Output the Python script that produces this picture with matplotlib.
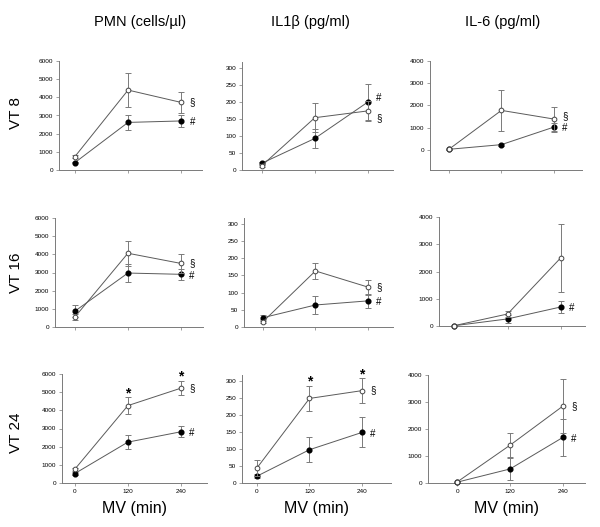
import matplotlib
matplotlib.use("Agg")
import matplotlib.pyplot as plt

plt.rcParams['font.family'] = ['Liberation Sans', 'DejaVu Sans']

# time points (min of mechanical ventilation)
mv_time = [0, 120, 240]
columns = ["PMN (cells/\u00b5l)", "IL1\u03b2 (pg/ml)", "IL-6 (pg/ml)"]
rows = ["VT 8", "VT 16", "VT 24"]

# open circles / filled circles, mean and SEM
pmn_vt8_open = [740, 4400, 3720]
pmn_vt8_open_err = [60, 920, 600]
pmn_vt8_fill = [410, 2620, 2700]
pmn_vt8_fill_err = [40, 400, 310]

il1_vt8_open = [13, 154, 174]
il1_vt8_open_err = [4, 43, 29]
il1_vt8_fill = [20, 93, 200]
il1_vt8_fill_err = [4, 29, 53]

il6_vt8_open = [30, 1780, 1390]
il6_vt8_open_err = [20, 930, 545]
il6_vt8_fill = [30, 240, 1030]
il6_vt8_fill_err = [10, 40, 200]

pmn_vt16_open = [550, 4060, 3500]
pmn_vt16_open_err = [150, 700, 500]
pmn_vt16_fill = [870, 2970, 2900]
pmn_vt16_fill_err = [330, 490, 320]

il1_vt16_open = [15, 163, 116]
il1_vt16_open_err = [4, 23, 22]
il1_vt16_fill = [27, 64, 76]
il1_vt16_fill_err = [9, 27, 20]

il6_vt16_open = [12, 440, 2510]
il6_vt16_open_err = [10, 120, 1250]
il6_vt16_fill = [10, 260, 700]
il6_vt16_fill_err = [8, 135, 210]

pmn_vt24_open = [760, 4260, 5220]
pmn_vt24_open_err = [80, 460, 400]
pmn_vt24_fill = [520, 2250, 2820]
pmn_vt24_fill_err = [60, 370, 300]

il1_vt24_open = [44, 249, 272]
il1_vt24_open_err = [24, 37, 36]
il1_vt24_fill = [20, 98, 149]
il1_vt24_fill_err = [6, 36, 44]

il6_vt24_open = [37, 1400, 2850]
il6_vt24_open_err = [15, 440, 985]
il6_vt24_fill = [30, 520, 1690]
il6_vt24_fill_err = [10, 410, 690]

panels = [
    [(pmn_vt8_open, pmn_vt8_open_err, pmn_vt8_fill, pmn_vt8_fill_err),
     (il1_vt8_open, il1_vt8_open_err, il1_vt8_fill, il1_vt8_fill_err),
     (il6_vt8_open, il6_vt8_open_err, il6_vt8_fill, il6_vt8_fill_err)],
    [(pmn_vt16_open, pmn_vt16_open_err, pmn_vt16_fill, pmn_vt16_fill_err),
     (il1_vt16_open, il1_vt16_open_err, il1_vt16_fill, il1_vt16_fill_err),
     (il6_vt16_open, il6_vt16_open_err, il6_vt16_fill, il6_vt16_fill_err)],
    [(pmn_vt24_open, pmn_vt24_open_err, pmn_vt24_fill, pmn_vt24_fill_err),
     (il1_vt24_open, il1_vt24_open_err, il1_vt24_fill, il1_vt24_fill_err),
     (il6_vt24_open, il6_vt24_open_err, il6_vt24_fill, il6_vt24_fill_err)],
]

# significance marks: "§" next to open series, "#" next to filled, "*" at time points
open_marks = {(0, 0), (0, 1), (0, 2), (1, 0), (1, 1), (2, 0), (2, 1), (2, 2)}
stars = {(2, 0): [120, 240], (2, 1): [120, 240]}
# vertical nudge (points) of the "§" / "#" labels where they would collide
sect_dy = {(0, 1): -5, (0, 2): 2}
hash_dy = {(0, 1): 3}

y_ticks = [list(range(0, 6001, 1000)), list(range(0, 301, 50)), list(range(0, 4001, 1000))]

# layout in pixels: left, right, top, bottom, xlim, ylim
W, H = 600, 527
layout = [
    [(59, 202, 61, 170, (-36, 287), (0, 6000)),
     (242, 393, 62, 170, (-45, 297), (0, 318)),
     (430, 582, 61, 170, (-43, 304), (-900, 4000))],
    [(55, 203, 218, 327, (-45, 290), (0, 6000)),
     (244, 393, 218, 327, (-43, 297), (0, 317)),
     (439, 585, 217, 326, (-34, 294), (0, 4000))],
    [(62, 207, 374, 483, (-29, 299), (0, 6000)),
     (242, 391, 375, 483, (-34, 306), (0, 318)),
     (428, 585, 375, 483, (-66, 290), (0, 4000))],
]

gray = "#7a7a7a"
line_c = "#5a5a5a"

fig = plt.figure(figsize=(W / 100, H / 100), dpi=100)

for r in range(3):
    for c in range(3):
        l, rt, t, b, xl, yl = layout[r][c]
        ax = fig.add_axes([l / W, 1 - b / H, (rt - l) / W, (b - t) / H])
        o, oe, f, fe = panels[r][c]
        ax.errorbar(mv_time, f, yerr=fe, color=line_c, lw=0.7, ecolor=gray,
                    elinewidth=0.7, capsize=2, capthick=0.7, marker="o", ms=3.4,
                    mfc="black", mec="black", clip_on=False, zorder=3)
        ax.errorbar(mv_time, o, yerr=oe, color=line_c, lw=0.7, ecolor=gray,
                    elinewidth=0.7, capsize=2, capthick=0.7, marker="o", ms=3.4,
                    mfc="white", mec="#444444", mew=0.7, clip_on=False, zorder=4)
        ax.set_xlim(xl)
        ax.set_ylim(yl)
        ax.set_xticks(mv_time)
        ax.set_yticks(y_ticks[c])
        if r == 2:
            ax.set_xticklabels([str(v) for v in mv_time])
            ax.set_xlabel("MV (min)", fontsize=11.5, labelpad=5)
        else:
            ax.set_xticklabels([])
        ax.tick_params(length=2, width=0.5, color=gray, labelsize=4.6, pad=2)
        for s in ["top", "right"]:
            ax.spines[s].set_visible(False)
        for s in ["left", "bottom"]:
            ax.spines[s].set_color(gray)
            ax.spines[s].set_linewidth(0.7)

        if (r, c) in open_marks:
            ax.annotate("\u00a7", (mv_time[-1], o[-1]), xytext=(6, sect_dy.get((r, c), 0)),
                        textcoords="offset points", fontsize=7, va="center", ha="left")
        ax.annotate("#", (mv_time[-1], f[-1]), xytext=(6, hash_dy.get((r, c), -1)),
                    textcoords="offset points", fontsize=7, va="center", ha="left")
        for tp in stars.get((r, c), []):
            i = mv_time.index(tp)
            ax.annotate("*", (tp, o[i] + oe[i]), xytext=(0, 3),
                        textcoords="offset points", fontsize=10, fontweight="bold",
                        va="center", ha="center", annotation_clip=False)

col_x = [140, 310, 503]
for c in range(3):
    fig.text(col_x[c] / W, 1 - 22 / H, columns[c], fontsize=10.5, ha="center", va="center")

row_y = [113, 273, 433]
for r in range(3):
    fig.text(16 / W, 1 - row_y[r] / H, rows[r], fontsize=11, rotation=90,
             ha="center", va="center")

fig.savefig("out.png", dpi=100)
